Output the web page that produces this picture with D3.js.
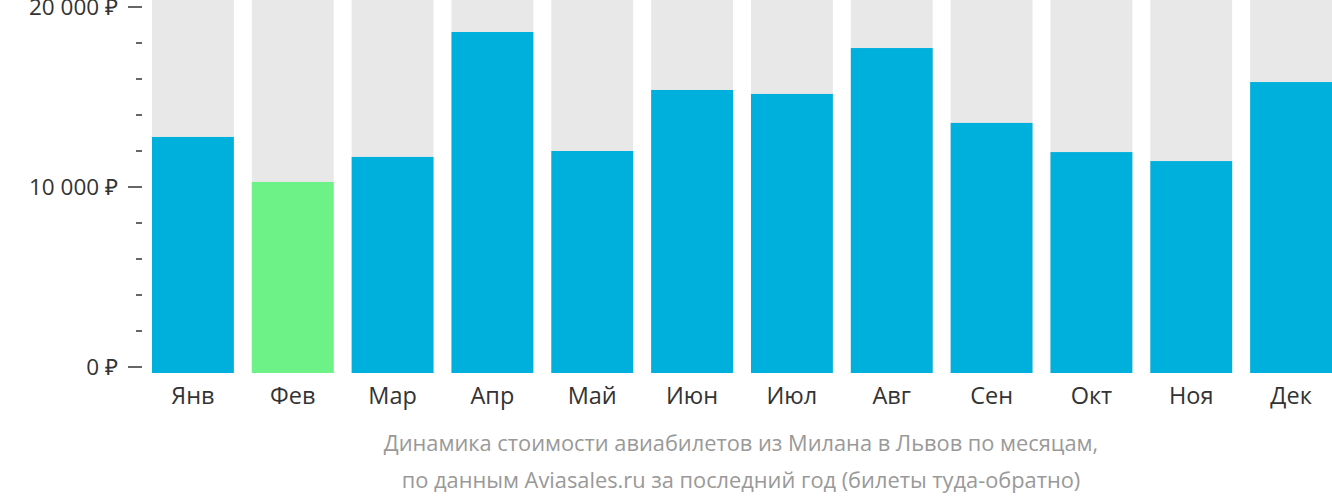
<!DOCTYPE html><html><head><meta charset="utf-8"><script src="https://cdn.jsdelivr.net/npm/d3@7"></script>
<style>body{margin:0;background:#fff}text{font-family:"Open Sans",sans-serif}</style></head><body>
<svg id="c" width="1332" height="502"></svg>
<script>
const months=["Янв","Фев","Мар","Апр","Май","Июн","Июл","Авг","Сен","Окт","Ноя","Дек"];
const prices=[12780,10280,11670,18610,12000,15390,15170,17720,13560,11940,11440,15830];
const cheapest=1;
const majorTicks=[0,10000,20000];
const minorTicks=d3.range(0,20001,2000);
const svg=d3.select("#c");
const x=d3.scaleBand().domain(months).range([142,1342]).paddingInner(0.18).paddingOuter(0.1);
const y=d3.scaleLinear().domain([0,20000]).range([367,7]);
const base=373;
svg.selectAll(".bg").data(months).join("rect").attr("x",d=>x(d)).attr("width",x.bandwidth()).attr("y",0).attr("height",base).attr("fill","#e8e8e8");
svg.selectAll(".b").data(prices).join("rect").attr("x",(d,i)=>x(months[i])).attr("width",x.bandwidth()).attr("y",d=>y(d)).attr("height",d=>base-y(d)).attr("fill",(d,i)=>i===cheapest?"#6cf287":"#00b0dc");
const fmt=v=>d3.format(",")(v).replace(/,/g," ")+" ₽";
svg.selectAll(".mt").data(minorTicks).join("line").attr("x1",d=>majorTicks.includes(d)?128:136).attr("x2",142).attr("y1",d=>y(d)).attr("y2",d=>y(d)).attr("stroke","#333").attr("stroke-width",1.5);
svg.selectAll(".tl").data(majorTicks).join("text").attr("x",118).attr("y",d=>y(d)).attr("dy","0.35em").attr("text-anchor","end").attr("font-size",22.5).attr("fill","#333").text(fmt);
svg.selectAll(".ml").data(months).join("text").attr("x",d=>x(d)+x.bandwidth()/2).attr("y",404).attr("text-anchor","middle").attr("font-size",23.5).attr("fill","#333").text(d=>d);
svg.append("text").attr("x",741).attr("y",451).attr("text-anchor","middle").attr("font-size",21.8).attr("fill","#999").text("Динамика стоимости авиабилетов из Милана в Львов по месяцам,");
svg.append("text").attr("x",741).attr("y",488).attr("text-anchor","middle").attr("font-size",21.8).attr("fill","#999").text("по данным Aviasales.ru за последний год (билеты туда-обратно)");
</script></body></html>
